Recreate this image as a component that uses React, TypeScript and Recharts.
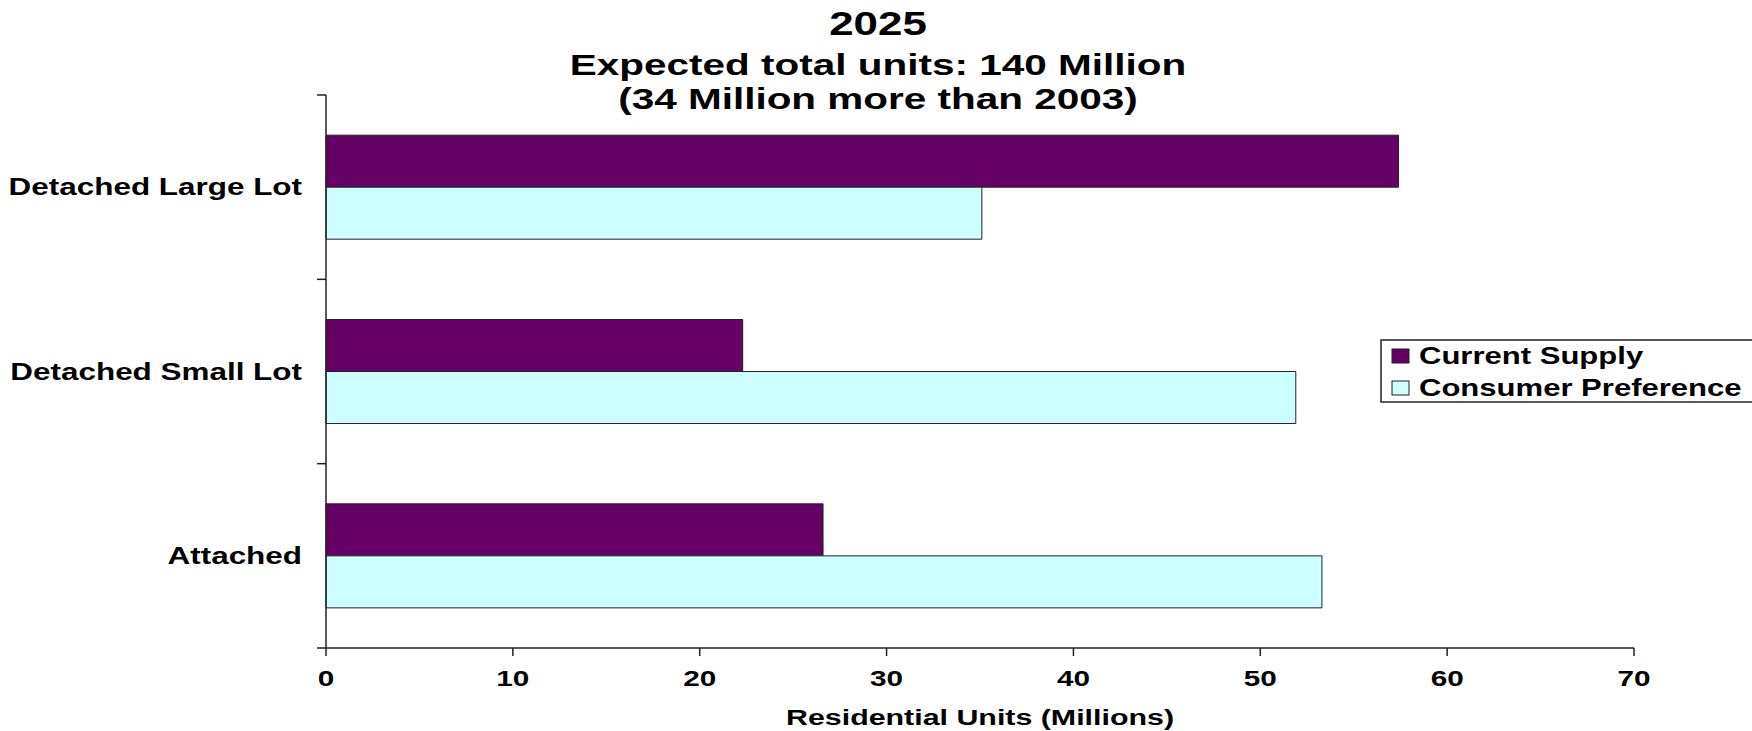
import React from 'react';
import { BarChart, Bar, XAxis, YAxis, Legend } from 'recharts';

const categories = ['Detached Large Lot', 'Detached Small Lot', 'Attached'];
const currentSupply = [57.4, 22.3, 26.6];
const consumerPreference = [35.1, 51.9, 53.3];
const xTicks = [0, 10, 20, 30, 40, 50, 60, 70];
const seriesNames = ['Current Supply', 'Consumer Preference'];
const titleLines = ['2025', 'Expected total units: 140 Million', '(34 Million more than 2003)'];
const xTitle = 'Residential Units (Millions)';

const SUPPLY = '#660066';
const PREF = '#CCFFFF';
const EDGE = '#222';
const FONT = '"Liberation Sans", Arial, sans-serif';
// the source image is stretched sideways, so text gets squashed back out
const SX = 1.35;

const W = 1752;
const H = 731;
const MARGIN = { top: 95, right: 118, bottom: 0, left: 0 };
const Y_W = 326;
const X_H = 83;
const PLOT_H = H - MARGIN.top - MARGIN.bottom - X_H;

const data = categories.map((name, i) => ({
  name,
  supply: currentSupply[i],
  pref: consumerPreference[i],
}));

const CatTick = (props: any) => {
  const { x, y, payload, index } = props;
  const axisX = x + 24;
  const band = PLOT_H / categories.length;
  return (
    <g>
      <text
        transform={`translate(${x},${y}) scale(${SX},1)`}
        textAnchor="end"
        dy="0.35em"
        fontSize={23.3}
        fontWeight="bold"
        fill="#000"
      >
        {payload.value}
      </text>
      <line x1={axisX - 9} x2={axisX} y1={y - band / 2} y2={y - band / 2} stroke={EDGE} strokeWidth={1.5} />
      {index === categories.length - 1 && (
        <line x1={axisX - 9} x2={axisX} y1={y + band / 2} y2={y + band / 2} stroke={EDGE} strokeWidth={1.5} />
      )}
    </g>
  );
};

const NumTick = (props: any) => {
  const { x, y, payload } = props;
  return (
    <text
      transform={`translate(${x},${y}) scale(${SX},1)`}
      textAnchor="middle"
      dy="0.71em"
      fontSize={22}
      fontWeight="bold"
      fill="#000"
    >
      {payload.value}
    </text>
  );
};

const LegendBox = (props: any) => {
  const items = [...(props.payload || [])].sort(
    (a: any, b: any) => seriesNames.indexOf(a.value) - seriesNames.indexOf(b.value)
  );
  return (
    <svg width={420} height={64} style={{ display: 'block' }}>
      <rect x={1} y={1} width={440} height={62} fill="#fff" stroke={EDGE} strokeWidth={1.5} />
      {items.map((it: any, i: number) => (
        <g key={i}>
          <rect x={12} y={10 + i * 32} width={17} height={14} fill={it.color} stroke={EDGE} strokeWidth={1} />
          <text
            transform={`translate(39,${17 + i * 32}) scale(${SX},1)`}
            dy="0.36em"
            fontSize={23}
            fontWeight="bold"
            fill="#000"
          >
            {it.value}
          </text>
        </g>
      ))}
    </svg>
  );
};

export default function App() {
  return (
    <div style={{ position: 'absolute', left: 0, top: 0, width: W, height: H, overflow: 'hidden', background: '#fff', fontFamily: FONT }}>
      <BarChart
        width={W}
        height={H}
        data={data}
        layout="vertical"
        margin={MARGIN}
        barCategoryGap="21.8%"
        barGap={0}
      >
        <XAxis
          type="number"
          domain={[0, 70]}
          ticks={xTicks}
          height={X_H}
          tickSize={8}
          tickMargin={14}
          tick={<NumTick />}
          axisLine={{ stroke: EDGE, strokeWidth: 1.5 }}
          tickLine={{ stroke: EDGE, strokeWidth: 1.5 }}
        />
        <YAxis
          type="category"
          dataKey="name"
          width={Y_W}
          tickSize={0}
          tickMargin={24}
          tickLine={false}
          tick={<CatTick />}
          axisLine={{ stroke: EDGE, strokeWidth: 1.5 }}
        />
        <Legend
          layout="vertical"
          align="center"
          verticalAlign="middle"
          content={<LegendBox />}
          wrapperStyle={{ left: 1380, top: 339, width: 420, height: 64 }}
        />
        <Bar dataKey="supply" name={seriesNames[0]} fill={SUPPLY} stroke={EDGE} strokeWidth={1} isAnimationActive={false} />
        <Bar dataKey="pref" name={seriesNames[1]} fill={PREF} stroke={EDGE} strokeWidth={1} isAnimationActive={false} />
      </BarChart>
      <svg width={W} height={H} style={{ position: 'absolute', left: 0, top: 0, pointerEvents: 'none' }}>
        <text transform={`translate(878,35) scale(${SX},1)`} textAnchor="middle" fontSize={32.5} fontWeight="bold" fill="#000">
          {titleLines[0]}
        </text>
        <text transform={`translate(878,75) scale(${SX},1)`} textAnchor="middle" fontSize={30} fontWeight="bold" fill="#000">
          {titleLines[1]}
        </text>
        <text transform={`translate(878,109) scale(${SX},1)`} textAnchor="middle" fontSize={30} fontWeight="bold" fill="#000">
          {titleLines[2]}
        </text>
        <text transform={`translate(980,725) scale(${SX},1)`} textAnchor="middle" fontSize={22.5} fontWeight="bold" fill="#000">
          {xTitle}
        </text>
      </svg>
    </div>
  );
}
